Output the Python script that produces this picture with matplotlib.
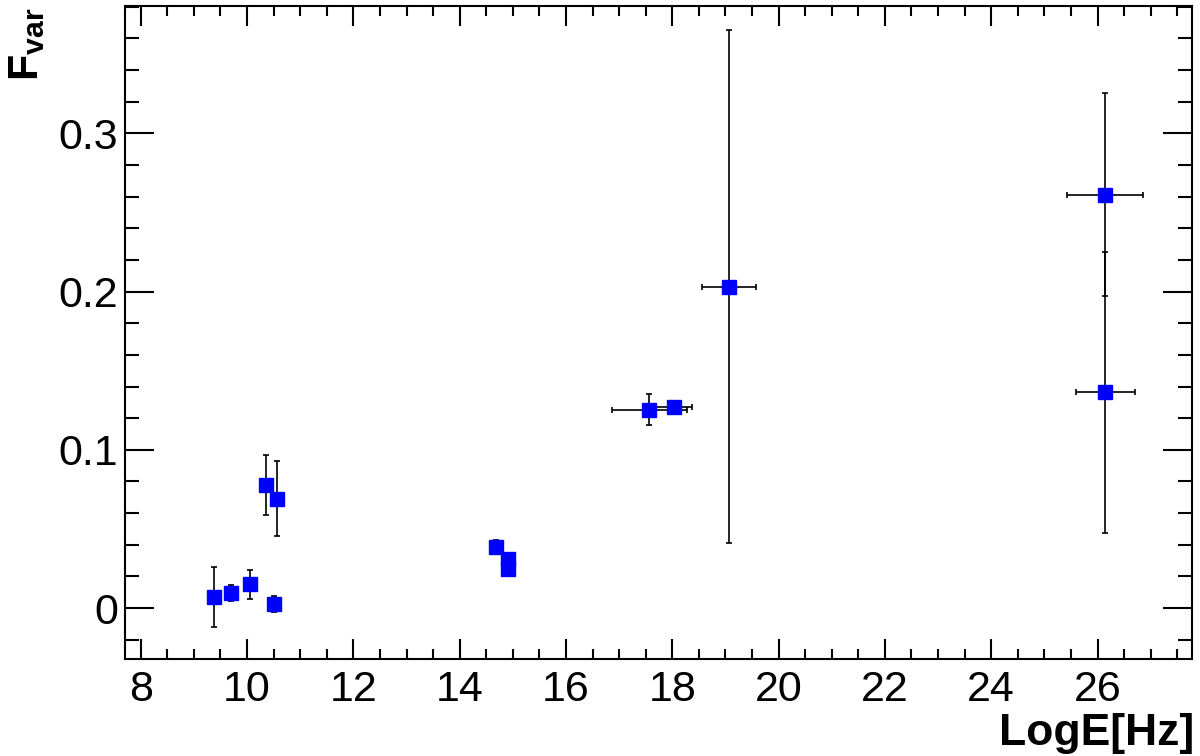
import numpy as np
import matplotlib
matplotlib.use("Agg")
import matplotlib.pyplot as plt
from matplotlib.ticker import MultipleLocator

plt.rcParams['font.family'] = ['Liberation Sans', 'DejaVu Sans']
plt.rcParams['mathtext.fontset'] = 'custom'
plt.rcParams['mathtext.rm'] = 'Liberation Sans'
plt.rcParams['mathtext.bf'] = 'Liberation Sans:bold'

# log frequency, Fvar and errors
log_freq = [9.38, 9.70, 10.06, 10.50, 10.36, 10.57, 14.68, 14.91, 14.90,
            17.57, 18.04, 19.06, 26.14, 26.15]
fvar = [0.0071, 0.0097, 0.0150, 0.0025, 0.0778, 0.0692, 0.0384, 0.0310, 0.0250,
        0.1253, 0.1269, 0.2030, 0.2613, 0.1363]
fvar_err = [0.019, 0.005, 0.009, 0.005, 0.019, 0.0235, 0.0045, 0.003, 0.005,
            0.0097, 0.003, 0.162, 0.064, 0.089]
freq_err = [0, 0, 0, 0, 0, 0, 0, 0, 0,
            0.71, 0.34, 0.51, 0.72, 0.55]

fig = plt.figure(figsize=(12, 7.56), dpi=100)
ax = fig.add_axes([0.104, 0.128, 0.889, 0.864])

ax.errorbar(log_freq, fvar, yerr=fvar_err, xerr=freq_err, fmt='s',
            color='blue', ms=9.5, mec='blue', ecolor='black', elinewidth=1.2,
            capsize=2, capthick=1.2, zorder=3)

ax.set_xlim(7.70, 27.77)
ax.set_ylim(-0.0323, 0.3804)

ax.xaxis.set_major_locator(MultipleLocator(2))
ax.xaxis.set_minor_locator(MultipleLocator(0.5))
ax.yaxis.set_major_locator(MultipleLocator(0.1))
ax.yaxis.set_minor_locator(MultipleLocator(0.02))
ax.yaxis.set_major_formatter(plt.FuncFormatter(lambda v, p: '0' if abs(v) < 1e-9 else '%.1f' % v))

ax.tick_params(axis='both', which='both', direction='in', top=True, right=True, width=1.5)
ax.tick_params(axis='x', which='major', length=14.5, labelsize=31, pad=8)
ax.tick_params(axis='x', which='minor', length=7.2)
ax.tick_params(axis='y', which='major', length=21, labelsize=31, pad=5)
ax.tick_params(axis='y', which='minor', length=10)
for s in ax.spines.values():
    s.set_linewidth(1.5)

fig.text(0.995, 0.0146, 'LogE[Hz]', fontsize=32, fontweight='bold', ha='right', va='baseline')
fig.text(0.023, 0.99, r'$\mathbf{F_{var}}$', fontsize=31, rotation=90, ha='center', va='top')

fig.savefig('out.png', dpi=100)
